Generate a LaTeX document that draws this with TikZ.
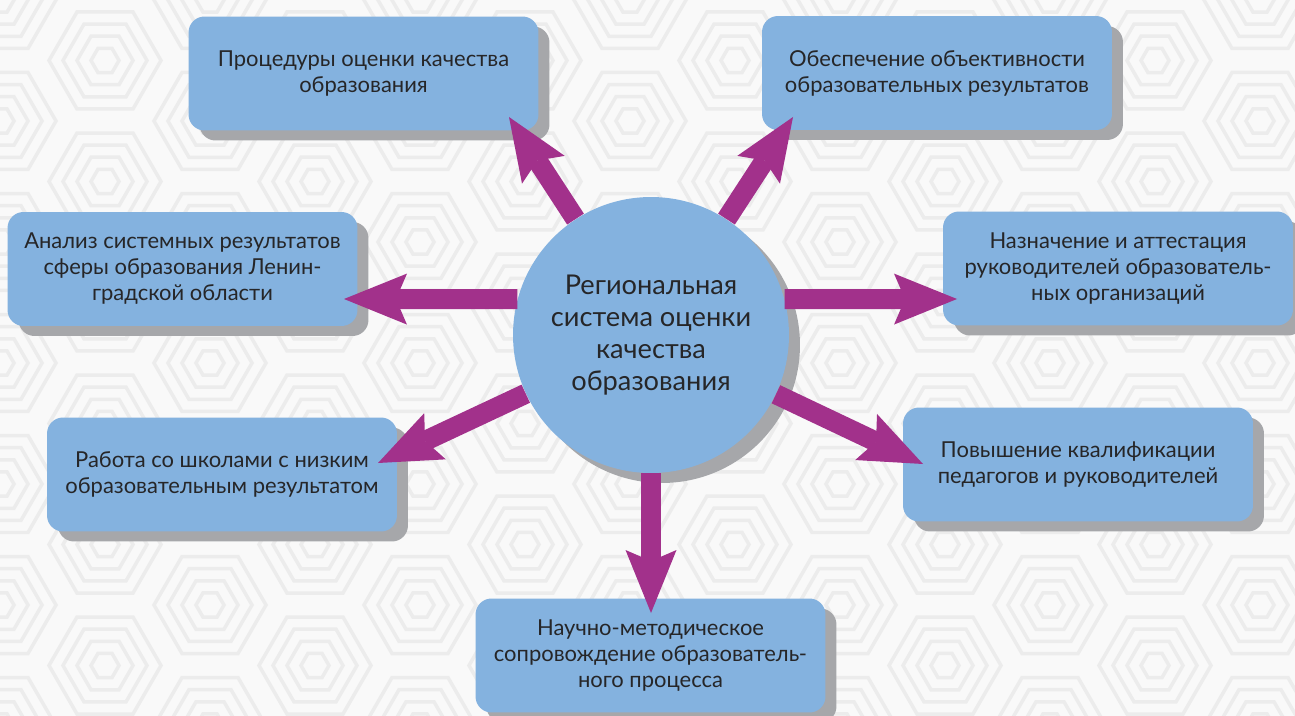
\documentclass[tikz,border=0pt]{standalone}
\usepackage{fontspec}
\setmainfont{Lato}
\usetikzlibrary{arrows.meta,shadows}
\definecolor{boxblue}{RGB}{132,178,223}
\definecolor{shadowgray}{RGB}{166,167,170}
\definecolor{arrpurple}{RGB}{162,49,139}
\definecolor{txtdark}{RGB}{38,38,40}
\definecolor{bgwhite}{RGB}{249,249,249}
\definecolor{hexline}{RGB}{236,236,236}

\begin{document}
\begin{tikzpicture}[x=0.02cm, y=-0.02cm,
	box/.style={rectangle, rounded corners=0.32cm, fill=boxblue, minimum width=7cm, minimum height=2.28cm, align=center, text=txtdark, font=\fontsize{12.5}{14.8}\selectfont, drop shadow={shadow xshift=0.22cm, shadow yshift=-0.2cm, fill=shadowgray, opacity=1}},
	hub/.style={circle, fill=boxblue, minimum size=5.52cm, inner sep=0pt, align=center, text=txtdark, font=\fontsize{15.5}{18.2}\selectfont, drop shadow={shadow xshift=0.22cm, shadow yshift=-0.2cm, fill=shadowgray, opacity=1}},
	arr/.style={draw=arrpurple, line width=0.4cm, -{Stealth[length=1.26cm, width=1.02cm, inset=0.22cm, line width=0pt]}},
	hexring/.style={draw=hexline, line width=0.07cm}]
	\useasboundingbox[fill=bgwhite] (0,0) rectangle (1295,716);
	\begin{scope}
		\clip (0,0) rectangle (1295,716);
		\foreach \i in {0,...,13} {
			\foreach \j in {-1,...,6} {
				\pgfmathsetmacro\cx{\i*105}
				\pgfmathsetmacro\cy{\j*121+mod(\i,2)*60.5}
				\foreach \r in {14,28,42,56} {
					\draw [hexring, shift={(\cx,\cy)}] (0:\r) -- (60:\r) -- (120:\r) -- (180:\r) -- (240:\r) -- (300:\r) -- cycle;
				}
			}
		}
	\end{scope}

	\node at (363.5,73.5) [box] (b1) {Процедуры оценки качества\\образования};
	\node at (937,73) [box] (b2) {Обеспечение объективности\\образовательных результатов};
	\node at (182.5,269) [box] (b3) {Анализ системных результатов\\сферы образования Ленин-\\градской области};
	\node at (1118,268.5) [box] (b4) {Назначение и аттестация\\руководителей образователь-\\ных организаций};
	\node at (222,474.5) [box] (b5) {Работа со школами с низким\\образовательным результатом};
	\node at (1078,464.5) [box] (b6) {Повышение квалификации\\педагогов и руководителей};
	\node at (650.5,655.5) [box] (b7) {Научно-методическое\\сопровождение образователь-\\ного процесса};

	\node at (651,335) [hub] (c) {Региональная\\система оценки\\качества\\образования};

	\coordinate (t1) at (509,117);
	\coordinate (t2) at (793,117);
	\coordinate (t3) at (344,299);
	\coordinate (t4) at (957,299);
	\coordinate (t5) at (378,463);
	\coordinate (t6) at (923,464);
	\coordinate (t7) at (651,613);

	\draw [arr] (c) -- (t1);
	\draw [arr] (c) -- (t2);
	\draw [arr] (c.165) -- (t3);
	\draw [arr] (c.15) -- (t4);
	\draw [arr] (c) -- (t5);
	\draw [arr] (c) -- (t6);
	\draw [arr] (c) -- (t7);
\end{tikzpicture}
\end{document}
